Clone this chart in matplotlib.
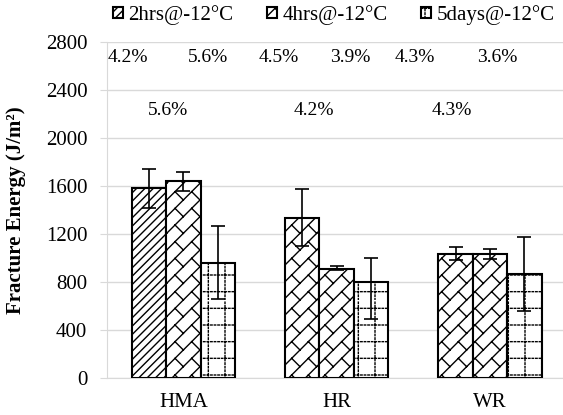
import warnings
import numpy as np
import matplotlib
matplotlib.use('Agg')
import matplotlib.pyplot as plt
import matplotlib.hatch as mhatch
import matplotlib.transforms as mtrans
from matplotlib.path import Path
from matplotlib.patches import Patch

warnings.filterwarnings('ignore')

# ---- data ----
categories = ['HMA', 'HR', 'WR']
series_names = ['2hrs@-12°C', '4hrs@-12°C', '5days@-12°C']
vals_2hrs = [1585, 1335, 1036]
vals_4hrs = [1640, 912, 1030]
vals_5days = [962, 800, 868]
# error bars (lower, upper)
err_2hrs = [[165, 236, 54], [160, 236, 58]]
err_4hrs = [[82, 10, 38], [79, 20, 45]]
err_5days = [[306, 308, 307], [307, 203, 307]]
# COV labels (text, x in category units, y in J/m2)
cov_text = ['4.2%', '5.6%', '4.5%', '3.9%', '4.3%', '3.6%', '5.6%', '4.2%', '4.3%']
cov_x = [-0.36, 0.16, 0.62, 1.09, 1.51, 2.05, -0.10, 0.85, 1.75]
cov_y = [2667, 2667, 2667, 2667, 2667, 2667, 2233, 2233, 2233]


# ---- custom hatches: diagonal brick ('b') and dotted grid ('d') ----
class SegHatch(mhatch.HatchPatternBase):
    def set_vertices_and_codes(self, vertices, codes):
        for i, (p, q) in enumerate(self.segs):
            vertices[2 * i] = p
            vertices[2 * i + 1] = q
            codes[2 * i] = Path.MOVETO
            codes[2 * i + 1] = Path.LINETO


class BrickHatch(SegHatch):
    def __init__(self, hatch, density):
        n = hatch.count('b') * density
        self.segs = []
        if n:
            for k in range(-n, n + 1):
                c = k / n
                self.segs.append(((0, c), (1, 1 + c)))
            for k in range(-n - 1, n + 1):
                for j in range(-1, n + 2):
                    x0 = j / n
                    p = (x0, x0 + k / n)
                    q = (x0 - 0.5 / n, x0 + k / n + 0.5 / n)
                    if max(p[0], q[0]) >= 0 and min(p[0], q[0]) <= 1 and \
                            max(p[1], q[1]) >= 0 and min(p[1], q[1]) <= 1:
                        self.segs.append((p, q))
        self.num_lines = len(self.segs)
        self.num_vertices = 2 * len(self.segs)


class DotGridHatch(SegHatch):
    def __init__(self, hatch, density):
        n = hatch.count('d') * density
        self.segs = []
        if n:
            m = 28
            dl = 0.4 / m
            for i in range(n):
                c = (i + 0.5) / n
                for j in range(m):
                    t = j / m
                    self.segs.append(((t, c), (t + dl, c)))
                    self.segs.append(((c, t), (c, t + dl)))
        self.num_lines = len(self.segs)
        self.num_vertices = 2 * len(self.segs)


mhatch._hatch_types.extend([BrickHatch, DotGridHatch])
mhatch._validate_hatch_pattern = lambda h: None

plt.rcParams['font.family'] = ['Liberation Serif', 'DejaVu Serif']
plt.rcParams['hatch.linewidth'] = 1.0

fig = plt.figure(figsize=(5.63, 4.15), dpi=100)
ax = fig.add_axes([106.7 / 563, 37 / 415, 460 / 563, 336 / 415])

x = np.arange(len(categories))
w = 0.2245
all_vals = [vals_2hrs, vals_4hrs, vals_5days]
all_errs = [err_2hrs, err_4hrs, err_5days]
hatches = [['////', 'b', 'b'], ['b', 'b', 'b'], ['d', 'd', 'd']]

for i in range(3):
    bars = ax.bar(x + (i - 1) * w, all_vals[i], w, color='white', edgecolor='black',
                  linewidth=1.5, yerr=all_errs[i], capsize=5, zorder=3,
                  error_kw=dict(elinewidth=1.2, capthick=1.2, ecolor='black', zorder=4))
    for b, h in zip(bars, hatches[i]):
        b.set_hatch(h)

for t, xx, yy in zip(cov_text, cov_x, cov_y):
    ax.text(xx, yy, t, ha='center', va='center', fontsize=14)

ax.set_xlim(-0.5, 2.5)
ax.set_ylim(0, 2800)
ax.set_yticks(np.arange(0, 2801, 400))
ax.yaxis.grid(True, color='#d9d9d9', linewidth=1)
ax.set_axisbelow(True)
ax.set_xticks(x)
ax.set_xticklabels(categories)
shift = mtrans.ScaledTranslation(-18 / 100, 0, fig.dpi_scale_trans)
for lab in ax.get_xticklabels():
    lab.set_transform(lab.get_transform() + shift)
ax.tick_params(axis='x', length=0, labelsize=15, pad=11)
ax.tick_params(axis='y', length=5, color='#d9d9d9', labelsize=15, pad=9)
for s in ['top', 'right']:
    ax.spines[s].set_visible(False)
ax.spines['left'].set_color('#d9d9d9')
ax.spines['bottom'].set_color('#d9d9d9')
ax.set_ylabel('Fracture Energy (J/m²)', fontsize=15, fontweight='bold', labelpad=14)

handles = [Patch(facecolor='white', edgecolor='black', hatch=h, linewidth=1.5)
           for h in ['////', 'b', 'd']]
fig.legend(handles, series_names, loc='center', bbox_to_anchor=(0.5924, 0.964), ncol=3,
           frameon=False, fontsize=15, handlelength=0.5, handleheight=0.5,
           handletextpad=0.25, columnspacing=1.6)

fig.savefig('out.png', dpi=100)
